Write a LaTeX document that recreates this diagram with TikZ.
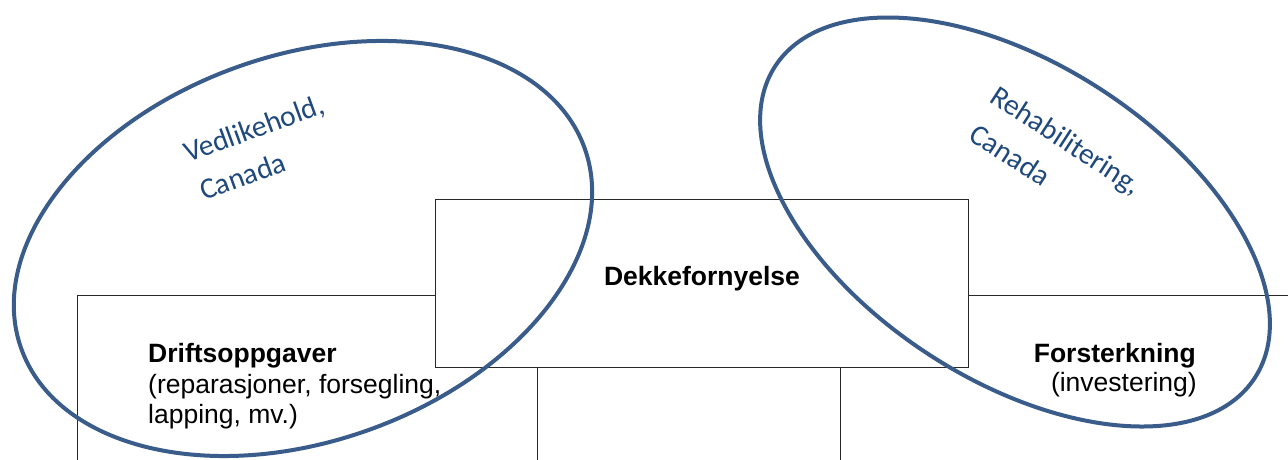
\documentclass[tikz,border=0pt]{standalone}
\usepackage{fontspec}
\setmainfont{Liberation Sans}
\newfontfamily\labelfont{Carlito}
\definecolor{ringblue}{RGB}{58,92,138}
\definecolor{labelblue}{RGB}{31,73,125}
\definecolor{frame}{RGB}{40,40,40}
\begin{document}
\begin{tikzpicture}[x=1pt,y=-1pt,
  boxline/.style={draw=frame, line width=1.4pt, fill=white, inner sep=0pt, anchor=north west},
  ring/.style={draw=ringblue, line width=4pt},
  ringlabel/.style={font=\labelfont\fontsize{29.5}{34}\selectfont, text=labelblue, inner sep=0pt, anchor=base west},
  boxtitle/.style={font=\fontsize{26.5}{30.5}\selectfont\bfseries, inner sep=0pt},
  boxnote/.style={font=\fontsize{26.5}{30.5}\selectfont, inner sep=0pt}]
\useasboundingbox (0,0) rectangle (1288,460);
\clip (0,0) rectangle (1288,460);

% lower row of boxes (cut by the page edge)
\node[boxline, minimum width=460pt, minimum height=220pt] (drift) at (77,295) {};
\node[boxline, minimum width=303pt, minimum height=220pt] (middle) at (537,295) {};
\node[boxline, minimum width=600pt, minimum height=220pt] (forst) at (840,295) {};

% upper box
\node[boxline, minimum width=533pt, minimum height=168pt] (dekke) at (435,199) {};

% box texts
\node[boxtitle, anchor=base] (dekketxt) at (702,285) {Dekkefornyelse};
\node[boxtitle, anchor=base west] (drifttxt) at (148,362) {Driftsoppgaver};
\node[boxnote, anchor=base west] (driftnoteA) at (148,393) {(reparasjoner, forsegling,};
\node[boxnote, anchor=base west] (driftnoteB) at (148,423) {lapping, mv.)};
\node[boxtitle, anchor=base east] (forsttxt) at (1196,362) {Forsterkning};
\node[boxnote, anchor=base east] (forstnote) at (1197,391) {(investering)};

% the two rings
\coordinate (lc) at (303,248.5);
\coordinate (rc) at (1015,222);
\draw[ring, rotate around={19.5:(lc)}] (lc) ellipse [x radius=299pt, y radius=193pt];
\draw[ring, rotate around={-33:(rc)}] (rc) ellipse [x radius=286pt, y radius=158pt];

% ring labels
\node[ringlabel, rotate=20] (vedA) at (188,163) {Vedlikehold,};
\node[ringlabel, rotate=20] (vedB) at (204,201) {Canada};
\node[ringlabel, rotate=-33] (rehA) at (988,101) {Rehabilitering,};
\node[ringlabel, rotate=-33] (rehB) at (967,139) {Canada};
\end{tikzpicture}
\end{document}
